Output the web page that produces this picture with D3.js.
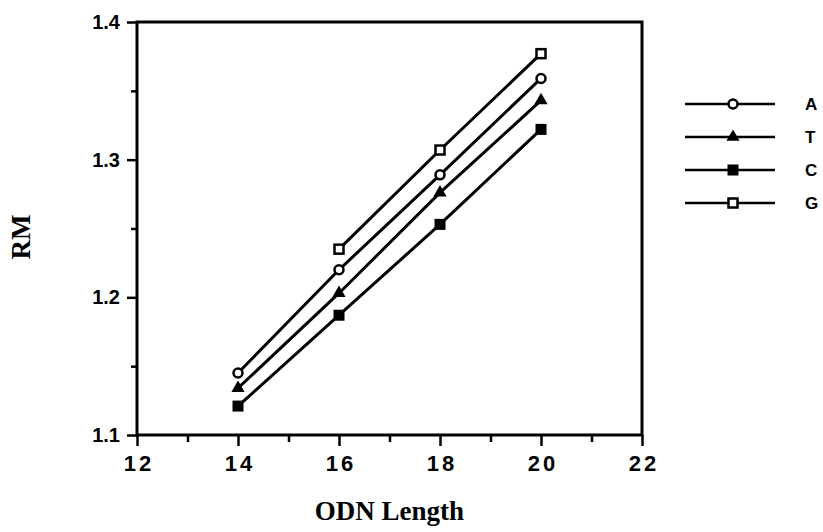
<!DOCTYPE html>
<html>
<head>
<meta charset="utf-8">
<title>RM vs ODN Length</title>
<style>
	body { margin: 0; background: #fff; }
	.tick text { fill: #000; }
</style>
</head>
<body>
<svg id="chart" width="823" height="532"></svg>
<script src="https://cdnjs.cloudflare.com/ajax/libs/d3/7.8.5/d3.min.js"></script>
<script>

	// data
	var lengths = [14, 16, 18, 20];
	var seriesNames = ["A", "T", "C", "G"];
	var valuesA = [1.145, 1.220, 1.289, 1.359];
	var valuesT = [1.134, 1.203, 1.276, 1.343];
	var valuesC = [1.121, 1.187, 1.253, 1.322];
	var valuesG = [null, 1.235, 1.307, 1.377];
	var xTicks = [12, 14, 16, 18, 20, 22];
	var xMinor = [13, 15, 17, 19, 21];
	var yTicks = [1.1, 1.2, 1.3, 1.4];
	var yMinor = [1.15, 1.25, 1.35];

	var seriesValues = [valuesA, valuesT, valuesC, valuesG];
	var symbols = {A: "circle", T: "triangle", C: "fsquare", G: "osquare"};

	var svg = d3.select("#chart"),
	    margin = {top: 22, right: 181, bottom: 97, left: 137},
	    width = +svg.attr("width") - margin.left - margin.right,
	    height = +svg.attr("height") - margin.top - margin.bottom,
	    g = svg.append("g").attr("transform", "translate(" + margin.left + "," + margin.top + ")");

	var x = d3.scaleLinear().domain([12, 22]).range([0, width]);
	var y = d3.scaleLinear().domain([1.1, 1.4]).range([height, 0]);

	var numFont = "'Liberation Sans', Arial, sans-serif";
	var titleFont = "'Liberation Serif', 'Times New Roman', serif";

	// minor ticks
	g.append("g")
	    .attr("transform", "translate(0," + height + ")")
	    .call(d3.axisBottom(x).tickValues(xMinor).tickSize(7).tickFormat(""))
	    .call(function(a) { a.select(".domain").remove(); })
	    .selectAll("line").attr("stroke", "#000").attr("stroke-width", 2.5);

	g.append("g")
	    .call(d3.axisLeft(y).tickValues(yMinor).tickSize(6).tickFormat(""))
	    .call(function(a) { a.select(".domain").remove(); })
	    .selectAll("line").attr("stroke", "#000").attr("stroke-width", 2.5);

	// major ticks
	var xAxis = g.append("g")
	    .attr("transform", "translate(0," + height + ")")
	    .call(d3.axisBottom(x).tickValues(xTicks).tickSize(11).tickPadding(9).tickFormat(d3.format("d")));
	xAxis.select(".domain").remove();
	xAxis.selectAll("line").attr("stroke", "#000").attr("stroke-width", 2.5);
	xAxis.selectAll("text")
	    .style("font-family", numFont)
	    .style("font-size", "22px")
	    .style("font-weight", "bold")
	    .style("letter-spacing", "3px")
	    .attr("dx", "1.5px");

	var yAxis = g.append("g")
	    .call(d3.axisLeft(y).tickValues(yTicks).tickSize(10).tickPadding(7).tickFormat(d3.format(".1f")));
	yAxis.select(".domain").remove();
	yAxis.selectAll("line").attr("stroke", "#000").attr("stroke-width", 2.5);
	yAxis.selectAll("text")
	    .style("font-family", numFont)
	    .style("font-size", "20px")
	    .style("font-weight", "bold");

	// frame
	g.append("rect")
	    .attr("width", width)
	    .attr("height", height)
	    .attr("fill", "none")
	    .attr("stroke", "#000")
	    .attr("stroke-width", 3);

	var line = d3.line()
	    .defined(function(d) { return d[1] != null; })
	    .x(function(d) { return x(d[0]); })
	    .y(function(d) { return y(d[1]); });

	function drawMarker(sel, kind) {
		if (kind == "circle") {
			sel.append("circle").attr("r", 4.5)
			    .attr("fill", "#fff").attr("stroke", "#000").attr("stroke-width", 2.5);
		} else if (kind == "triangle") {
			sel.append("path").attr("d", d3.symbol().type(d3.symbolTriangle).size(75)())
			    .attr("fill", "#000");
		} else if (kind == "fsquare") {
			sel.append("rect").attr("x", -5.5).attr("y", -5.5).attr("width", 11).attr("height", 11)
			    .attr("fill", "#000");
		} else {
			sel.append("rect").attr("x", -4.5).attr("y", -4.5).attr("width", 9).attr("height", 9)
			    .attr("fill", "#fff").attr("stroke", "#000").attr("stroke-width", 2.5);
		}
	}

	seriesNames.forEach(function(name, i) {
		var pts = lengths.map(function(l, j) { return [l, seriesValues[i][j]]; });
		g.append("path")
		    .datum(pts)
		    .attr("fill", "none")
		    .attr("stroke", "#000")
		    .attr("stroke-width", 3)
		    .attr("d", line);
		pts.filter(function(d) { return d[1] != null; }).forEach(function(d) {
			var m = g.append("g").attr("transform", "translate(" + x(d[0]) + "," + y(d[1]) + ")");
			drawMarker(m, symbols[name]);
		});
	});

	// legend
	var legend = svg.append("g").attr("transform", "translate(685,104)");
	seriesNames.forEach(function(name, i) {
		var row = legend.append("g").attr("transform", "translate(0," + (i * 33) + ")");
		row.append("line").attr("x1", 0).attr("x2", 90)
		    .attr("stroke", "#000").attr("stroke-width", 2.5);
		drawMarker(row.append("g").attr("transform", "translate(48,0)"), symbols[name]);
		row.append("text")
		    .attr("x", 120)
		    .attr("dy", "0.36em")
		    .style("font-family", numFont)
		    .style("font-size", "17px")
		    .style("font-weight", "bold")
		    .text(name);
	});

	// axis titles
	svg.append("text")
	    .attr("x", margin.left + width / 2)
	    .attr("y", 520)
	    .attr("text-anchor", "middle")
	    .style("font-family", titleFont)
	    .style("font-size", "27px")
	    .style("font-weight", "bold")
	    .text("ODN Length");

	svg.append("text")
	    .attr("transform", "translate(30,237) rotate(-90)")
	    .attr("text-anchor", "middle")
	    .style("font-family", titleFont)
	    .style("font-size", "27px")
	    .style("font-weight", "bold")
	    .text("RM");

</script>
</body>
</html>
